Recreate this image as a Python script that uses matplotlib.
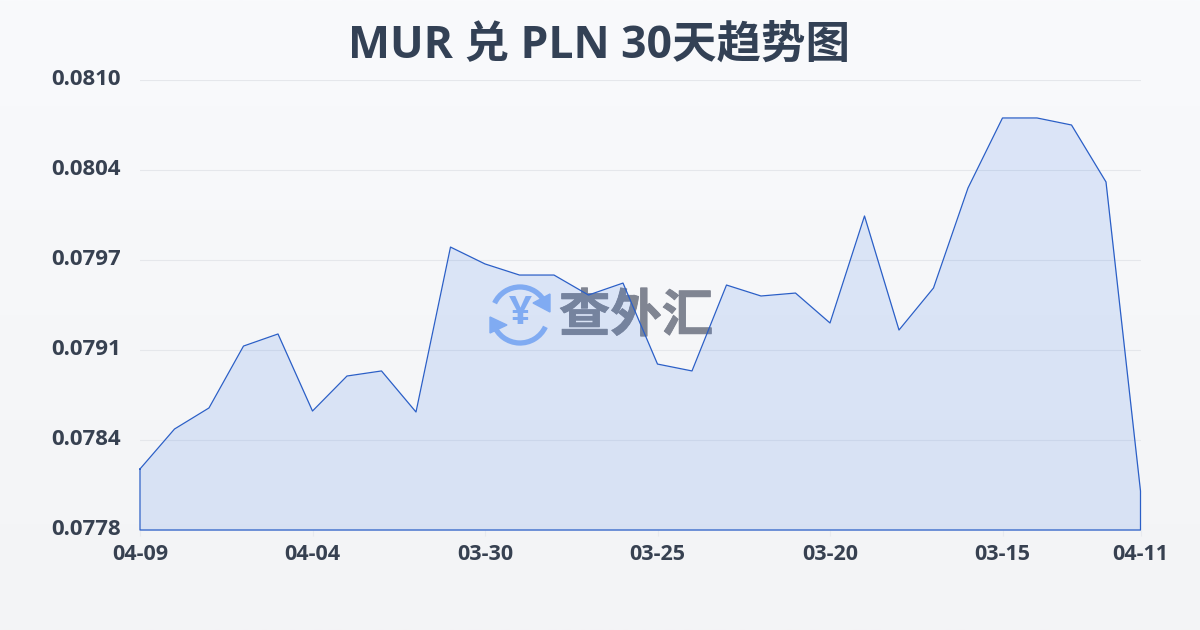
import numpy as np
import matplotlib
matplotlib.use("Agg")
import matplotlib.pyplot as plt
import matplotlib.patheffects as pe
from matplotlib.patches import Arc, Polygon

plt.rcParams['font.family'] = ['Open Sans', 'Noto Sans CJK SC', 'DejaVu Sans']

# 30 daily rates
rates = [0.078234, 0.078518, 0.078668, 0.079108, 0.079194, 0.078646, 0.078895, 0.078931,
         0.078639, 0.079812, 0.079692, 0.079613, 0.079613, 0.079471, 0.079556, 0.078980,
         0.078931, 0.079542, 0.079464, 0.079485, 0.079272, 0.080033, 0.079222, 0.079521,
         0.080232, 0.080730, 0.080730, 0.080680, 0.080275, 0.078077]
tick_pos = [0, 5, 10, 15, 20, 25, 29]
tick_labels = ["04-09", "04-04", "03-30", "03-25", "03-20", "03-15", "04-11"]
ytick_vals = [0.0778, 0.07844, 0.07908, 0.07972, 0.08036, 0.0810]
ytick_labels = ["0.0778", "0.0784", "0.0791", "0.0797", "0.0804", "0.0810"]
title = "MUR 兑 PLN 30天趋势图"

W, H = 1200, 630
LINE = "#2b5fc7"
TXT = "#374151"
fig = plt.figure(figsize=(W / 100, H / 100), dpi=100)

# page background gradient
bg = fig.add_axes([0, 0, 1, 1], zorder=0)
c0 = np.array([249, 250, 252])
c1 = np.array([243, 244, 246])
grad = np.linspace(0, 1, 256)[:, None, None] * (c1 - c0) + c0
bg.imshow(grad / 255, aspect="auto", extent=[0, W, H, 0])
bg.axis("off")

ax = fig.add_axes([140 / W, 1 - 530 / H, 1000.5 / W, 450 / H], zorder=1)
ax.patch.set_alpha(0)
x = np.arange(len(rates))
ax.set_xlim(0, 29)
ax.set_ylim(0.0778, 0.0810)

ax.set_yticks(ytick_vals)
ax.set_yticklabels(ytick_labels, fontsize=16, fontweight="bold", color=TXT, ha="center", va="center")
ax.set_xticks(tick_pos)
ax.set_xticklabels(tick_labels, fontsize=15.5, fontweight="bold", color=TXT)
ax.tick_params(axis="y", length=0, pad=39)
ax.tick_params(axis="x", length=4, width=0.8, color="#e8eaee", pad=6)
for s in ax.spines.values():
    s.set_visible(False)
ax.grid(axis="y", color="#e5e7eb", lw=0.8)
ax.set_axisbelow(True)

# watermark, pixel coordinates
wm = fig.add_axes([0, 0, 1, 1], zorder=2)
wm.set_xlim(0, W); wm.set_ylim(H, 0); wm.axis("off"); wm.patch.set_alpha(0)
BLUE = "#8db4f5"
wm.add_patch(Arc((520, 315), 56, 56, theta1=25, theta2=160, color=BLUE, lw=3.8))
wm.add_patch(Arc((520, 315), 56, 56, theta1=205, theta2=335, color=BLUE, lw=3.8))
wm.add_patch(Polygon([(550, 294), (550, 312), (533, 303)], color=BLUE))
wm.add_patch(Polygon([(490, 317), (490, 333), (507, 325)], color=BLUE))
wm.text(520, 314, "¥", color=BLUE, fontsize=29, fontweight="bold", ha="center", va="center")
wm.text(636, 316, "查外汇", color="#808592", fontsize=37, fontweight="bold",
        family="Noto Sans CJK SC", ha="center", va="center",
        path_effects=[pe.withStroke(linewidth=0.6, foreground="#808592")])

# area and closed outline above the watermark
top = fig.add_axes(ax.get_position(), zorder=3, sharex=ax, sharey=ax)
top.patch.set_alpha(0)
top.axis("off")
top.fill_between(x, rates, 0.0778, color="#3b78e7", alpha=0.15, lw=0)
top.plot(np.r_[x, x[-1], x[0], x[0]], np.r_[rates, 0.0778, 0.0778, rates[0]],
         color=LINE, lw=0.9, clip_on=False)

fig.text(599 / W, 1 - 46 / H, title, fontsize=32, fontweight="bold", color="#334155",
         ha="center", va="center")

fig.savefig("out.png", dpi=100)
